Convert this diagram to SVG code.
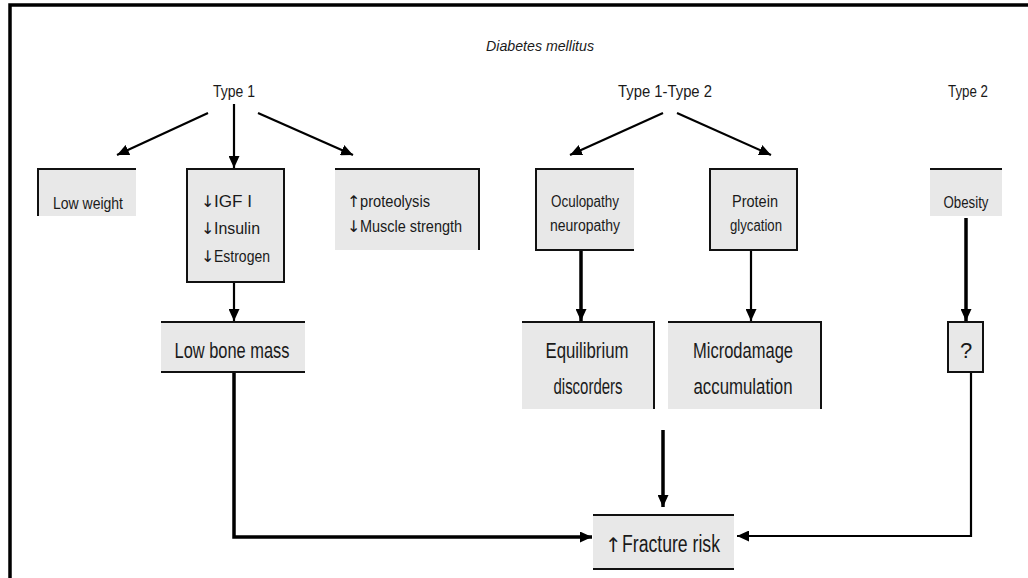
<svg xmlns="http://www.w3.org/2000/svg" width="1028" height="578" viewBox="0 0 1028 578">
<defs>
<marker id="ah" markerUnits="userSpaceOnUse" markerWidth="12" markerHeight="11" refX="12" refY="5.5" orient="auto">
<path d="M0,0 L12,5.5 L0,11 z" fill="#000"/>
</marker>
<style>
.box{fill:#e8e8e8;stroke:none}
.bd{stroke:#111;stroke-width:2;fill:none}
.t{font-family:"Liberation Sans",Arial,sans-serif;fill:#1a1a1a}
.s{font-size:16px}
.m{font-size:22px}
.a{font-family:"DejaVu Sans",sans-serif;fill:#1a1a1a}
.c{stroke:#000;fill:none;stroke-width:2.2}
.k{stroke:#000;fill:none;stroke-width:3.5}
</style>
</defs>
<rect width="1028" height="578" fill="#fff"/>
<g id="frame">
<path d="M10,578 L10,5 L1028,5" stroke="#000" stroke-width="3.5" fill="none"/>
</g>
<g id="headers">
<text class="t" x="540" y="51" font-size="15" font-style="italic" text-anchor="middle" textLength="108" lengthAdjust="spacingAndGlyphs">Diabetes mellitus</text>
<text class="t" x="234" y="97" font-size="17" text-anchor="middle" textLength="42" lengthAdjust="spacingAndGlyphs">Type 1</text>
<text class="t" x="665" y="97" font-size="17" text-anchor="middle" textLength="94" lengthAdjust="spacingAndGlyphs">Type 1-Type 2</text>
<text class="t" x="968" y="97" font-size="17" text-anchor="middle" textLength="40" lengthAdjust="spacingAndGlyphs">Type 2</text>
</g>
<g id="connectors">
<path class="c" d="M208,113 L117,155" marker-end="url(#ah)"/>
<path class="c" d="M234,104 L234,168" marker-end="url(#ah)"/>
<path class="c" d="M258,113 L353,155" marker-end="url(#ah)"/>
<path class="c" d="M663,113 L570,155" marker-end="url(#ah)"/>
<path class="c" d="M677,113 L771,155" marker-end="url(#ah)"/>
<path class="c" d="M234,282 L234,321" marker-end="url(#ah)"/>
<path class="k" d="M581,250 L581,321" marker-end="url(#ah)"/>
<path class="c" d="M751,250 L751,321" marker-end="url(#ah)"/>
<path class="k" d="M966,218 L966,321" marker-end="url(#ah)"/>
<path class="k" d="M234,372 L234,537 L592,537" marker-end="url(#ah)"/>
<path class="k" d="M663,430 L663,507" marker-end="url(#ah)"/>
<path class="c" d="M971,372 L971,536 L737,536" marker-end="url(#ah)"/>
</g>
<g id="low-weight">
<rect class="box" x="38" y="169" width="98" height="47"/>
<path class="bd" d="M38,216 L38,169 L136,169"/>
<text class="t s" x="88" y="209" text-anchor="middle" textLength="70" lengthAdjust="spacingAndGlyphs">Low weight</text>
</g>
<g id="hormones">
<rect class="box" x="187" y="169" width="97" height="113"/>
<rect class="bd" x="187" y="169" width="97" height="113"/>
<text class="a s" x="201" y="207">↓</text>
<text class="t s" x="214" y="207" textLength="38" lengthAdjust="spacingAndGlyphs">IGF I</text>
<text class="a s" x="201" y="234">↓</text>
<text class="t s" x="214" y="234" textLength="46" lengthAdjust="spacingAndGlyphs">Insulin</text>
<text class="a s" x="201" y="262">↓</text>
<text class="t s" x="214" y="262" textLength="56" lengthAdjust="spacingAndGlyphs">Estrogen</text>
</g>
<g id="muscle">
<rect class="box" x="335" y="169" width="144" height="81"/>
<path class="bd" d="M335,169 L479,169 L479,250"/>
<text class="a s" x="347" y="207">↑</text>
<text class="t s" x="360" y="207" textLength="70" lengthAdjust="spacingAndGlyphs">proteolysis</text>
<text class="a s" x="347" y="232">↓</text>
<text class="t s" x="360" y="232" textLength="102" lengthAdjust="spacingAndGlyphs">Muscle strength</text>
</g>
<g id="low-bone-mass">
<rect class="box" x="161" y="322" width="144" height="50"/>
<path class="bd" d="M161,322 L305,322 M161,372 L305,372"/>
<text class="t m" x="232" y="358" text-anchor="middle" textLength="115" lengthAdjust="spacingAndGlyphs">Low bone mass</text>
</g>
<g id="oculopathy">
<rect class="box" x="536" y="169" width="98" height="81"/>
<path class="bd" d="M634,169 L536,169 L536,250 L634,250"/>
<text class="t s" x="585" y="207" text-anchor="middle" textLength="68" lengthAdjust="spacingAndGlyphs">Oculopathy</text>
<text class="t s" x="585" y="231" text-anchor="middle" textLength="70" lengthAdjust="spacingAndGlyphs">neuropathy</text>
</g>
<g id="protein">
<rect class="box" x="710" y="169" width="87" height="81"/>
<rect class="bd" x="710" y="169" width="87" height="81"/>
<text class="t s" x="755" y="207" text-anchor="middle" textLength="46" lengthAdjust="spacingAndGlyphs">Protein</text>
<text class="t s" x="756" y="231" text-anchor="middle" textLength="52" lengthAdjust="spacingAndGlyphs">glycation</text>
</g>
<g id="obesity">
<rect class="box" x="930" y="169" width="72" height="47"/>
<path class="bd" d="M930,169 L1002,169"/>
<text class="t s" x="966" y="208" text-anchor="middle" textLength="45" lengthAdjust="spacingAndGlyphs">Obesity</text>
</g>
<g id="equilibrium">
<rect class="box" x="522" y="322" width="132" height="87"/>
<path class="bd" d="M522,322 L654,322 L654,409"/>
<text class="t m" x="587" y="358" text-anchor="middle" textLength="83" lengthAdjust="spacingAndGlyphs">Equilibrium</text>
<text class="t m" x="588" y="394" text-anchor="middle" textLength="69" lengthAdjust="spacingAndGlyphs">discorders</text>
</g>
<g id="microdamage">
<rect class="box" x="668" y="322" width="153" height="87"/>
<path class="bd" d="M668,322 L821,322 L821,409"/>
<text class="t m" x="743" y="358" text-anchor="middle" textLength="100" lengthAdjust="spacingAndGlyphs">Microdamage</text>
<text class="t m" x="743" y="394" text-anchor="middle" textLength="99" lengthAdjust="spacingAndGlyphs">accumulation</text>
</g>
<g id="unknown">
<rect class="box" x="948" y="322" width="35" height="50"/>
<rect class="bd" x="948" y="322" width="35" height="50"/>
<text class="t m" x="966" y="358" text-anchor="middle">?</text>
</g>
<g id="fracture-risk">
<rect class="box" x="593" y="515" width="141" height="54"/>
<path class="bd" d="M593,515 L734,515 M593,569 L734,569"/>
<text class="a" x="605" y="552" font-size="20">↑</text>
<text class="t" x="622" y="552" font-size="23" textLength="98" lengthAdjust="spacingAndGlyphs">Fracture risk</text>
</g>
</svg>
